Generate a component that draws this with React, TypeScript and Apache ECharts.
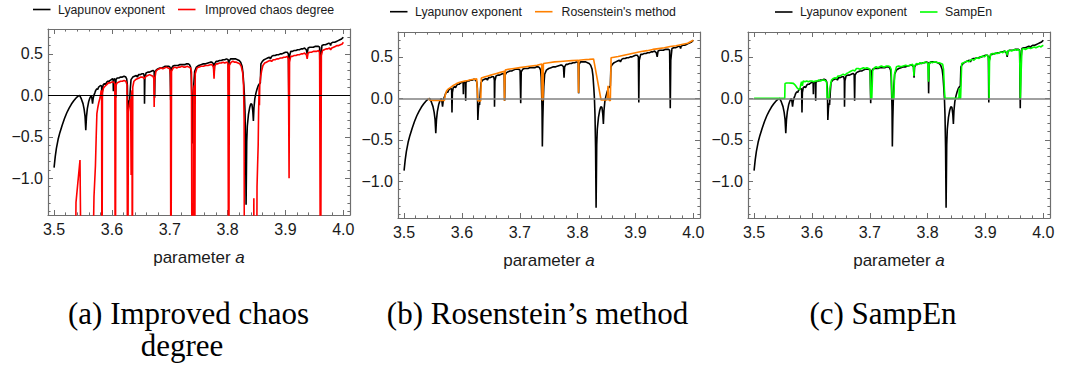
import React, { useEffect, useRef } from "react";
import * as echarts from "echarts";

const xTicks = [3.5, 3.6, 3.7, 3.8, 3.9, 4.0];
const xMinorTicks = [3.52, 3.54, 3.56, 3.58, 3.62, 3.64, 3.66, 3.68, 3.72, 3.74, 3.76, 3.78, 3.82, 3.84, 3.86, 3.88, 3.92, 3.94, 3.96, 3.98];
const yTicks = [-1.0, -0.5, 0.0, 0.5];
const yMinorTicks = [-1.4, -1.3, -1.2, -1.1, -0.9, -0.8, -0.7, -0.6, -0.4, -0.3, -0.2, -0.1, 0.1, 0.2, 0.3, 0.4, 0.6, 0.7];

const legendNames = ["Lyapunov exponent", "Improved chaos degree", "Rosenstein's method", "SampEn"];
const captions = ["(a) Improved chaos", "degree", "(b) Rosenstein\u2019s method", "(c) SampEn"];

const lyapunov: [number, number][] = [
  [3.5, -0.872], [3.502, -0.74], [3.504, -0.64], [3.507, -0.53], [3.51, -0.45], [3.514, -0.36], [3.518, -0.28], [3.522, -0.21], [3.526, -0.155], [3.53, -0.105], [3.534, -0.065], [3.538, -0.032], [3.541, -0.012], [3.5441, 0.0], [3.547, -0.04], [3.55, -0.1], [3.552, -0.17], [3.5535, -0.25], [3.5548, -0.42], [3.556, -0.26], [3.5575, -0.16], [3.56, -0.07], [3.562, -0.03], [3.5644, 0.0], [3.5655, -0.04], [3.5665, -0.1], [3.5675, -0.04], [3.5688, 0.0], [3.5699, 0.0],
  [3.5705, 0.03], [3.572, 0.06], [3.574, 0.08], [3.5755, 0.07], [3.577, 0.1], [3.579, 0.11], [3.581, 0.12], [3.5822, 0.11], [3.5828, -0.17], [3.5835, 0.07], [3.585, 0.13], [3.587, 0.14], [3.589, 0.13], [3.591, 0.16], [3.593, 0.17], [3.595, 0.17], [3.597, 0.18], [3.599, 0.19], [3.601, 0.2], [3.602, 0.19], [3.6025, 0.05], [3.603, 0.19], [3.605, 0.2], [3.606, 0.18], [3.6065, -0.03], [3.607, 0.19], [3.609, 0.21], [3.612, 0.21], [3.615, 0.22], [3.618, 0.22], [3.621, 0.23], [3.624, 0.22], [3.6255, 0.2], [3.6267, 0.12], [3.6275, -0.26], [3.6285, -0.12], [3.6295, -0.06], [3.6305, -0.08], [3.6318, 0.08], [3.633, 0.19],
  [3.636, 0.22], [3.639, 0.23], [3.642, 0.24], [3.644, 0.22], [3.646, 0.25], [3.649, 0.25], [3.652, 0.26], [3.655, 0.26], [3.656, 0.22], [3.6563, -0.1], [3.657, 0.21], [3.659, 0.27], [3.662, 0.28], [3.665, 0.28], [3.668, 0.29], [3.671, 0.3], [3.673, 0.29], [3.6738, -0.03], [3.6745, 0.28], [3.677, 0.31], [3.68, 0.32], [3.683, 0.33], [3.686, 0.33], [3.689, 0.34], [3.692, 0.35], [3.695, 0.35], [3.698, 0.35], [3.7005, 0.34], [3.7016, -0.06], [3.7025, 0.32], [3.705, 0.35], [3.708, 0.36], [3.711, 0.36], [3.714, 0.36], [3.717, 0.37], [3.72, 0.37], [3.723, 0.37], [3.726, 0.37], [3.729, 0.38], [3.732, 0.38], [3.734, 0.37], [3.736, 0.34], [3.737, 0.25], [3.738, 0.0], [3.7385, -0.15], [3.739, -0.58], [3.7398, -0.25], [3.7405, -0.06], [3.7415, 0.14], [3.743, 0.29],
  [3.746, 0.34], [3.75, 0.36], [3.754, 0.37], [3.758, 0.38], [3.762, 0.38], [3.766, 0.39], [3.77, 0.4], [3.773, 0.4], [3.7755, 0.38], [3.7765, 0.25], [3.7775, 0.38], [3.78, 0.41], [3.783, 0.41], [3.786, 0.42], [3.789, 0.42], [3.792, 0.43], [3.795, 0.43], [3.798, 0.44], [3.801, 0.43], [3.8017, 0.06], [3.8025, 0.41], [3.805, 0.44], [3.808, 0.44], [3.811, 0.44], [3.814, 0.44], [3.817, 0.43], [3.82, 0.42], [3.8225, 0.4], [3.825, 0.35], [3.8265, 0.27], [3.828, 0.12], [3.829, 0.0], [3.83, -0.2], [3.831, -0.6], [3.8319, -1.32], [3.833, -0.56], [3.834, -0.37], [3.836, -0.23], [3.838, -0.15], [3.84, -0.1], [3.842, -0.11], [3.8435, -0.19], [3.8445, -0.31], [3.8455, -0.15], [3.847, -0.04], [3.849, 0.03], [3.851, 0.08], [3.853, 0.12], [3.855, 0.14], [3.8565, 0.15],
  [3.8575, 0.38], [3.86, 0.41], [3.863, 0.43], [3.866, 0.44], [3.869, 0.45], [3.872, 0.46], [3.874, 0.44], [3.876, 0.47], [3.879, 0.48], [3.882, 0.48], [3.885, 0.49], [3.888, 0.49], [3.891, 0.5], [3.894, 0.5], [3.897, 0.51], [3.9, 0.52], [3.903, 0.52], [3.905, 0.5], [3.9057, -0.05], [3.9065, 0.46], [3.909, 0.53], [3.912, 0.53], [3.915, 0.54], [3.918, 0.54], [3.921, 0.55], [3.924, 0.55], [3.927, 0.56], [3.93, 0.56], [3.933, 0.57], [3.936, 0.55], [3.9375, 0.5], [3.939, 0.57], [3.942, 0.58], [3.945, 0.58], [3.948, 0.58], [3.951, 0.59], [3.954, 0.59], [3.957, 0.59], [3.959, 0.58], [3.9601, -0.12], [3.961, 0.46], [3.963, 0.6], [3.966, 0.61], [3.969, 0.61], [3.972, 0.62], [3.975, 0.63], [3.977, 0.62], [3.978, 0.6], [3.979, 0.63], [3.982, 0.64], [3.985, 0.64], [3.988, 0.65], [3.991, 0.66], [3.994, 0.67], [3.997, 0.68], [4.0, 0.7],
];

const chaosDegree: [number, number][] = [
  [3.5, -3], [3.5355, -3], [3.5379, -1.29], [3.5448, -0.78], [3.5478, -3], [3.5645, -3], [3.569, -1.22], [3.5715, -0.85], [3.573, -0.45], [3.574, -0.22], [3.5755, -0.15], [3.5775, -0.08], [3.5795, -0.03], [3.5815, 0.06], [3.5822, 0.04], [3.5828, -3], [3.5836, 0.03], [3.5855, 0.09], [3.588, 0.11], [3.591, 0.13], [3.594, 0.15], [3.597, 0.15], [3.6, 0.16], [3.603, 0.16], [3.605, 0.14], [3.6058, -3], [3.6068, 0.12], [3.609, 0.15], [3.612, 0.16], [3.615, 0.17], [3.618, 0.17], [3.621, 0.18], [3.624, 0.17], [3.626, 0.13], [3.6272, -3], [3.6285, -0.2], [3.6298, -0.12], [3.631, -0.08], [3.6323, -0.04], [3.6332, -0.96], [3.634, -0.02], [3.6347, 0.06], [3.6352, -3], [3.636, 0.1], [3.638, 0.17],
  [3.641, 0.19], [3.644, 0.2], [3.647, 0.21], [3.65, 0.22], [3.653, 0.22], [3.656, 0.2], [3.659, 0.23], [3.662, 0.24], [3.665, 0.25], [3.668, 0.24], [3.671, 0.23], [3.6725, 0.2], [3.673, -0.14], [3.6738, 0.18], [3.676, 0.29], [3.679, 0.31], [3.682, 0.32], [3.685, 0.33], [3.688, 0.32], [3.691, 0.33], [3.694, 0.34], [3.697, 0.33], [3.7, 0.32], [3.7012, 0.25], [3.702, -3], [3.703, 0.29], [3.706, 0.33], [3.709, 0.34], [3.712, 0.33], [3.715, 0.34], [3.718, 0.34], [3.721, 0.35], [3.724, 0.34], [3.727, 0.34], [3.73, 0.35], [3.733, 0.34], [3.736, 0.33], [3.7375, 0.28], [3.7385, -3], [3.7405, -3], [3.741, 0.05], [3.7423, 0.12], [3.743, -3], [3.744, 0.26], [3.747, 0.33],
  [3.75, 0.34], [3.754, 0.35], [3.758, 0.35], [3.762, 0.36], [3.766, 0.36], [3.77, 0.37], [3.773, 0.37], [3.7755, 0.34], [3.7765, 0.2], [3.7775, 0.35], [3.78, 0.38], [3.783, 0.38], [3.786, 0.39], [3.789, 0.39], [3.792, 0.4], [3.795, 0.39], [3.798, 0.4], [3.8005, 0.39], [3.8018, -3], [3.803, 0.36], [3.806, 0.4], [3.809, 0.41], [3.812, 0.4], [3.815, 0.4], [3.818, 0.39], [3.821, 0.38], [3.8235, 0.35], [3.826, 0.27], [3.8275, 0.12], [3.8285, -0.3], [3.829, -3], [3.8448, -3], [3.8453, -1.24], [3.8458, -3], [3.8498, -3], [3.8508, -1.1], [3.8518, -0.84], [3.8528, -0.6], [3.8535, -0.2], [3.854, -0.05], [3.8545, 0.1], [3.855, -0.12], [3.8555, 0.12], [3.857, 0.22], [3.8589, 0.3],
  [3.861, 0.36], [3.864, 0.39], [3.867, 0.4], [3.87, 0.41], [3.873, 0.42], [3.876, 0.41], [3.879, 0.43], [3.882, 0.43], [3.885, 0.44], [3.888, 0.44], [3.891, 0.45], [3.894, 0.45], [3.897, 0.46], [3.9, 0.46], [3.903, 0.47], [3.905, 0.44], [3.9062, -1.0], [3.907, 0.4], [3.909, 0.47], [3.912, 0.47], [3.915, 0.48], [3.918, 0.48], [3.921, 0.49], [3.924, 0.49], [3.927, 0.5], [3.93, 0.5], [3.933, 0.51], [3.936, 0.49], [3.9375, 0.44], [3.939, 0.51], [3.942, 0.52], [3.945, 0.52], [3.948, 0.53], [3.951, 0.53], [3.954, 0.53], [3.957, 0.54], [3.959, 0.52], [3.9605, -3], [3.962, 0.48], [3.964, 0.54], [3.967, 0.55], [3.97, 0.56], [3.973, 0.56], [3.976, 0.57], [3.978, 0.55], [3.98, 0.57], [3.983, 0.58], [3.986, 0.59], [3.989, 0.6], [3.992, 0.6], [3.995, 0.61], [3.998, 0.62], [4.0, 0.64],
];

const rosenstein: [number, number][] = [
  [3.5415, 0.0], [3.544, -0.02], [3.55, -0.025], [3.56, -0.025], [3.5698, -0.025], [3.5715, 0.05], [3.5735, 0.09], [3.576, 0.11], [3.58, 0.13], [3.585, 0.155], [3.59, 0.175], [3.595, 0.19], [3.6, 0.2], [3.605, 0.21], [3.61, 0.215], [3.615, 0.225], [3.62, 0.23], [3.6255, 0.235], [3.6265, 0.235], [3.6275, -0.03], [3.6325, -0.03], [3.6335, 0.245], [3.64, 0.26], [3.645, 0.27], [3.65, 0.28], [3.655, 0.29], [3.66, 0.3], [3.665, 0.31], [3.67, 0.32], [3.673, 0.325], [3.6735, -0.03], [3.6742, -0.03], [3.6748, 0.34], [3.68, 0.35], [3.69, 0.36], [3.7, 0.37], [3.71, 0.38], [3.72, 0.39], [3.73, 0.4], [3.738, 0.415], [3.7385, -0.02], [3.7402, -0.02], [3.7408, 0.42],
  [3.75, 0.43], [3.76, 0.44], [3.77, 0.445], [3.78, 0.45], [3.79, 0.455], [3.801, 0.46], [3.8015, 0.066], [3.8022, 0.46], [3.81, 0.465], [3.82, 0.47], [3.8275, 0.475], [3.8405, -0.02], [3.851, -0.02], [3.8525, 0.15], [3.854, -0.02], [3.8565, -0.03], [3.8578, 0.49], [3.87, 0.505], [3.88, 0.52], [3.89, 0.535], [3.9, 0.55], [3.91, 0.565], [3.92, 0.575], [3.93, 0.59], [3.94, 0.6], [3.95, 0.61], [3.96, 0.625], [3.97, 0.635], [3.98, 0.65], [3.99, 0.665], [4.0, 0.7],
];

const sampEn: [number, number][] = [
  [3.5, 0.0], [3.553, 0.0], [3.5535, 0.18], [3.556, 0.185], [3.56, 0.185], [3.564, 0.183], [3.568, 0.18], [3.571, 0.16], [3.574, 0.13], [3.577, 0.11], [3.579, 0.105], [3.5805, 0.16], [3.582, 0.2], [3.5835, 0.15], [3.585, 0.21], [3.588, 0.2], [3.591, 0.21], [3.594, 0.2], [3.597, 0.21], [3.6, 0.21], [3.603, 0.2], [3.606, 0.21], [3.609, 0.21], [3.612, 0.22], [3.615, 0.21], [3.618, 0.22], [3.621, 0.22], [3.624, 0.21], [3.6255, 0.19], [3.6263, 0.0], [3.6295, 0.0], [3.6315, 0.14], [3.6338, 0.22], [3.637, 0.24], [3.64, 0.25], [3.6425, 0.24], [3.645, 0.27], [3.648, 0.27], [3.651, 0.28], [3.654, 0.29], [3.657, 0.28], [3.66, 0.3], [3.663, 0.31], [3.6655, 0.32], [3.668, 0.33], [3.671, 0.34], [3.674, 0.33], [3.677, 0.36], [3.68, 0.36], [3.683, 0.35], [3.686, 0.36], [3.689, 0.37], [3.692, 0.36], [3.695, 0.37], [3.698, 0.36], [3.7005, 0.35], [3.7018, 0.0], [3.7035, 0.0], [3.705, 0.33],
  [3.708, 0.37], [3.711, 0.38], [3.714, 0.37], [3.717, 0.38], [3.72, 0.39], [3.723, 0.38], [3.726, 0.38], [3.729, 0.39], [3.732, 0.39], [3.735, 0.38], [3.737, 0.35], [3.7385, 0.0], [3.7415, 0.0], [3.743, 0.3], [3.746, 0.38], [3.75, 0.39], [3.754, 0.38], [3.758, 0.39], [3.762, 0.4], [3.766, 0.39], [3.77, 0.4], [3.774, 0.41], [3.7755, 0.38], [3.7763, 0.27], [3.777, 0.39], [3.781, 0.42], [3.784, 0.41], [3.787, 0.43], [3.79, 0.42], [3.793, 0.43], [3.796, 0.44], [3.799, 0.43], [3.8005, 0.42], [3.8015, 0.2], [3.8025, 0.41], [3.805, 0.44], [3.808, 0.43], [3.811, 0.44], [3.814, 0.44], [3.817, 0.43], [3.82, 0.43], [3.823, 0.42], [3.826, 0.41], [3.8275, 0.35], [3.829, 0.1], [3.83, 0.0], [3.854, 0.0], [3.8548, 0.12], [3.8555, 0.0], [3.857, 0.0], [3.8589, 0.42],
  [3.862, 0.43], [3.865, 0.44], [3.868, 0.45], [3.871, 0.44], [3.874, 0.46], [3.877, 0.47], [3.88, 0.46], [3.883, 0.48], [3.886, 0.49], [3.889, 0.48], [3.892, 0.5], [3.895, 0.51], [3.898, 0.5], [3.901, 0.52], [3.904, 0.52], [3.9055, 0.45], [3.9062, 0.0], [3.907, 0.45], [3.909, 0.53], [3.912, 0.54], [3.915, 0.53], [3.918, 0.55], [3.921, 0.54], [3.924, 0.55], [3.927, 0.56], [3.93, 0.55], [3.933, 0.57], [3.936, 0.56], [3.9375, 0.52], [3.939, 0.57], [3.942, 0.58], [3.945, 0.57], [3.948, 0.58], [3.951, 0.59], [3.954, 0.58], [3.957, 0.59], [3.959, 0.57], [3.9603, 0.0], [3.9615, 0.3], [3.963, 0.59], [3.966, 0.6], [3.969, 0.59], [3.972, 0.6], [3.975, 0.61], [3.978, 0.6], [3.981, 0.61], [3.984, 0.62], [3.987, 0.61], [3.99, 0.62], [3.993, 0.63], [3.996, 0.62], [3.9985, 0.635], [4.0, 0.64],
];

const X_MIN = 3.4895;
const X_MAX = 4.0115;
const Y_MIN = -1.443;
const Y_MAX = 0.8;
const FRAME = "#6e6e6e";
const SANS = "Liberation Sans";
const SERIF = "Liberation Serif";

const panels = [
  { left: 48, top: 29, zeroColor: "#000000", zeroWidth: 1, color: "#ff0000", name: legendNames[1], data: chaosDegree, leg: { y: 9.5, l1: 33, t1: 58, l2: 178, t2: 205 } },
  { left: 398, top: 32, zeroColor: "#808080", zeroWidth: 1.5, color: "#ff8000", name: legendNames[2], data: rosenstein, leg: { y: 11.7, l1: 390, t1: 415, l2: 535, t2: 561.5 } },
  { left: 748, top: 32, zeroColor: "#808080", zeroWidth: 1.5, color: "#00ff00", name: legendNames[3], data: sampEn, leg: { y: 12, l1: 775, t1: 800, l2: 920, t2: 945 } },
];

const fmt = (v: number) => {
  const s = Math.abs(v).toFixed(1);
  return v < -1e-9 ? "\u2212" + s : s;
};

function buildOption() {
  const grid: any[] = [];
  const xAxis: any[] = [];
  const yAxis: any[] = [];
  const series: any[] = [];
  const graphic: any[] = [];
  panels.forEach((p, i) => {
    grid.push({ left: p.left, top: p.top, width: 302, height: 186, containLabel: false, outerBoundsMode: "none" });
    const xb = { type: "value", gridIndex: i, min: X_MIN, max: X_MAX, splitLine: { show: false } };
    const yb = { type: "value", gridIndex: i, min: Y_MIN, max: Y_MAX, splitLine: { show: false } };
    const line = { show: true, onZero: false, lineStyle: { color: FRAME, width: 1.2 } };
    const noLine = { show: false, onZero: false };
    const major = (vals: number[]) => ({ show: true, inside: true, length: 5, customValues: vals, lineStyle: { color: FRAME, width: 1 } });
    const minor = (vals: number[]) => ({ show: true, inside: true, length: 2.6, customValues: vals, lineStyle: { color: FRAME, width: 1 } });
    xAxis.push(
      {
        ...xb, position: "bottom", axisLine: line, axisTick: major(xTicks),
        axisLabel: { show: true, customValues: xTicks, formatter: fmt, margin: 6, fontSize: 16, fontFamily: SANS, color: "#1a1a1a" },
        name: "{n|parameter }{i|a}", nameLocation: "middle", nameGap: 34,
        nameTextStyle: {
          fontSize: 17, fontFamily: SANS, color: "#1a1a1a",
          rich: { n: { fontSize: 17, fontFamily: SANS, color: "#1a1a1a" }, i: { fontSize: 17, fontFamily: SANS, fontStyle: "italic", color: "#1a1a1a" } },
        },
      },
      { ...xb, position: "bottom", axisLine: noLine, axisTick: minor(xMinorTicks), axisLabel: { show: false } },
      { ...xb, position: "top", axisLine: line, axisTick: major(xTicks), axisLabel: { show: false } },
      { ...xb, position: "top", axisLine: noLine, axisTick: minor(xMinorTicks), axisLabel: { show: false } }
    );
    yAxis.push(
      {
        ...yb, position: "left", axisLine: line, axisTick: major(yTicks),
        axisLabel: { show: true, customValues: yTicks, formatter: fmt, margin: 5, fontSize: 16, fontFamily: SANS, color: "#1a1a1a" },
      },
      { ...yb, position: "left", axisLine: noLine, axisTick: minor(yMinorTicks), axisLabel: { show: false } },
      { ...yb, position: "right", axisLine: line, axisTick: major(yTicks), axisLabel: { show: false } },
      { ...yb, position: "right", axisLine: noLine, axisTick: minor(yMinorTicks), axisLabel: { show: false } }
    );
    series.push(
      {
        type: "line", name: legendNames[0], xAxisIndex: 4 * i, yAxisIndex: 4 * i, data: lyapunov,
        showSymbol: false, symbol: "none", clip: true, z: 2, color: "#000000",
        lineStyle: { color: "#000000", width: 1.6 },
        markLine: {
          silent: true, symbol: "none", label: { show: false },
          lineStyle: { color: p.zeroColor, width: p.zeroWidth, type: "solid" },
          data: [{ yAxis: 0 }],
        },
      },
      {
        type: "line", name: p.name, xAxisIndex: 4 * i, yAxisIndex: 4 * i, data: p.data,
        showSymbol: false, symbol: "none", clip: true, z: 3, color: p.color,
        lineStyle: { color: p.color, width: 1.6 },
      }
    );
    const L = p.leg;
    const legText = (text: string, x: number) => ({
      type: "text", x, y: L.y,
      style: { text, fontSize: 12.3, fontFamily: SANS, fill: "#1a1a1a", align: "left", verticalAlign: "middle" },
    });
    const legLine = (x: number, color: string) => ({
      type: "line", shape: { x1: x, y1: L.y, x2: x + 17.5, y2: L.y },
      style: { stroke: color, lineWidth: 1.6 },
    });
    graphic.push(
      legLine(L.l1, "#000000"), legText(legendNames[0], L.t1),
      legLine(L.l2, p.color), legText(p.name, L.t2)
    );
  });

  const capStyle = (text: string, x: number, y: number) => ({
    type: "text", x, y,
    style: { text, fontSize: 31, fontFamily: SERIF, fill: "#000", align: "center", verticalAlign: "middle" },
  });
  graphic.push(
    capStyle(captions[0], 188.5, 313),
    capStyle(captions[1], 182, 345),
    capStyle(captions[2], 537.5, 313),
    capStyle(captions[3], 883, 313)
  );

  return {
    animation: false,
    backgroundColor: "#ffffff",
    grid, xAxis, yAxis, series, graphic,
  };
}

export default function App() {
  const ref = useRef<HTMLDivElement>(null);
  useEffect(() => {
    if (!ref.current) return;
    const chart = echarts.init(ref.current, undefined, { renderer: "svg" });
    chart.setOption(buildOption() as any);
    return () => chart.dispose();
  }, []);
  return (
    <div
      ref={ref}
      style={{ position: "fixed", left: 0, top: 0, width: 1066, height: 376, background: "#fff" }}
    />
  );
}
